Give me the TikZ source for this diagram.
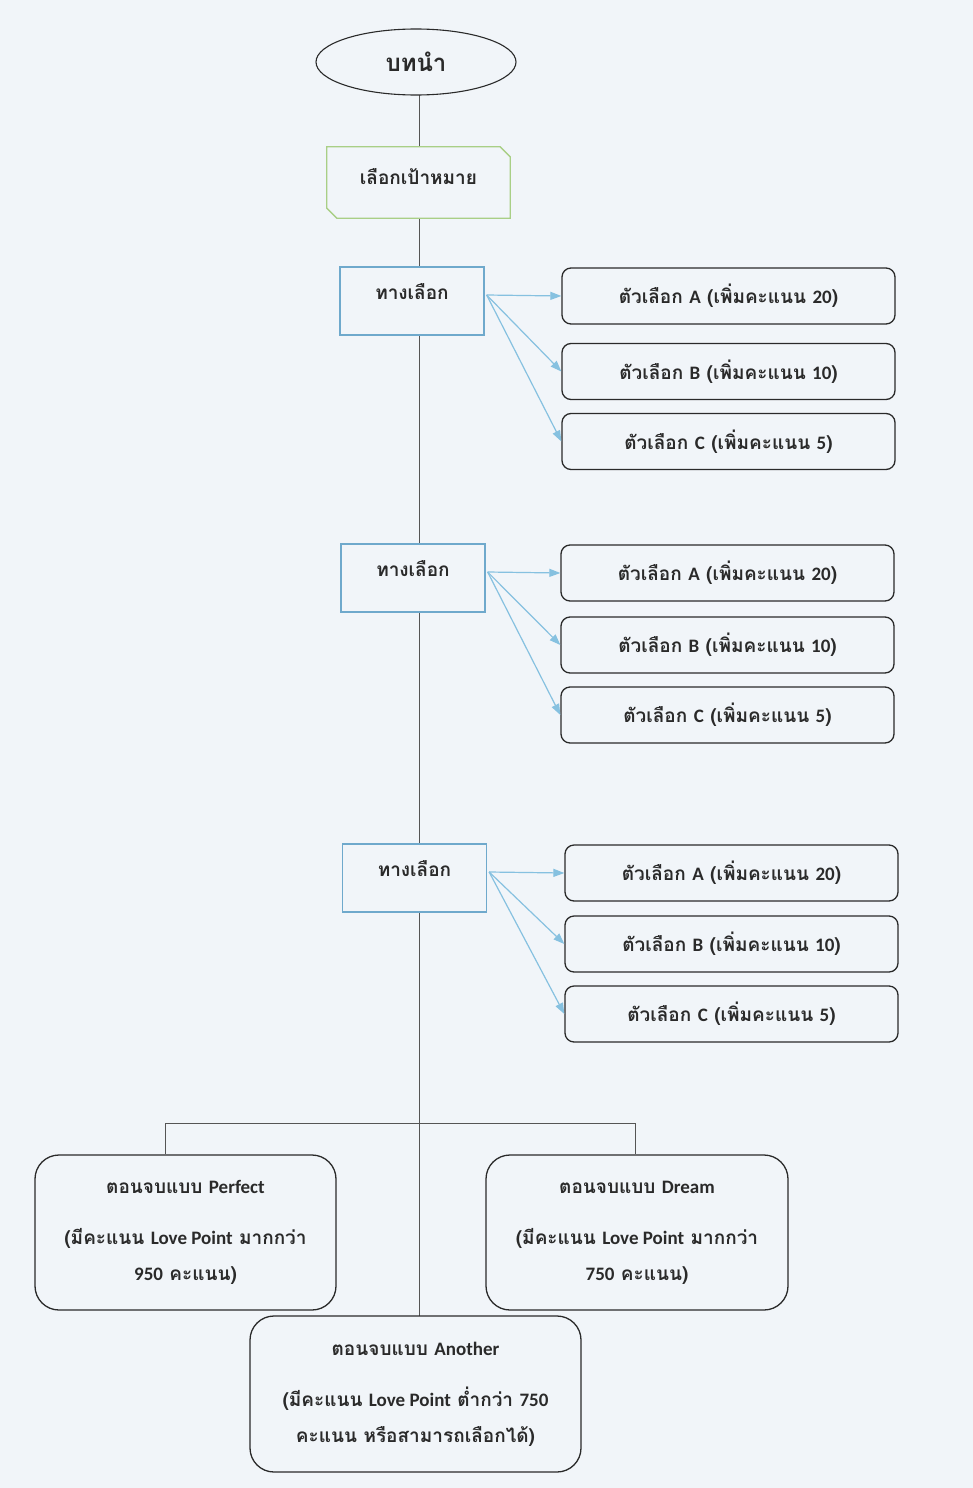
\documentclass[tikz,border=0pt]{standalone}
\usepackage{fontspec}
\usetikzlibrary{shapes.geometric,arrows.meta,calc}
\setmainfont[Script=Thai]{Loma}
\newfontfamily\latinfont{Carlito}
\newcommand{\lat}[1]{{\latinfont\bfseries #1}}
\definecolor{paper}{HTML}{F1F5F9}
\definecolor{ink}{HTML}{2A2A2A}
\definecolor{goalgreen}{HTML}{A9CF86}
\definecolor{boxblue}{HTML}{6FA9CC}
\definecolor{arrowblue}{HTML}{86C1E0}
\tikzset{
  txt/.style={text=ink, font=\fontsize{19}{23}\selectfont\bfseries, inner sep=0pt},
  startnode/.style={ellipse, draw=ink, line width=1.1pt, fill=paper,
    minimum width=200pt, minimum height=66pt, text=ink,
    font=\fontsize{24}{28}\selectfont\bfseries},
  choicebox/.style={rectangle, draw=boxblue, line width=1.3pt, fill=paper,
    minimum width=144pt, minimum height=68pt},
  optbox/.style={rectangle, rounded corners=9pt, draw=ink, line width=1.3pt, fill=paper,
    minimum width=333pt, minimum height=56pt, text=ink,
    font=\fontsize{19}{23}\selectfont\bfseries},
  endbox/.style={rectangle, rounded corners=24pt, draw=ink, line width=1.3pt, fill=paper,
    align=center, text=ink, font=\fontsize{19}{36}\selectfont\bfseries},
  trunk/.style={draw=ink!80, line width=0.9pt},
  pick/.style={draw=arrowblue, line width=1.2pt, -{Triangle[length=11pt,width=8pt]}}
}
\begin{document}
\begin{tikzpicture}[x=1pt,y=-1pt]
  \fill[paper] (0,0) rectangle (973,1488);
  \useasboundingbox (0,0) rectangle (973,1488);

  % main spine of the story
  \coordinate (spineTop) at (419,95);
  \coordinate (spineBot) at (419,1316);
  \draw[trunk] (spineTop) -- (spineBot);

  % start
  \node[startnode] (intro) at (416,62) {บทนำ};

  % goal selection (chamfered box)
  \node[minimum width=183pt, minimum height=71pt, inner sep=0pt] (goal) at (418.5,182.5) {};
  \filldraw[draw=goalgreen, fill=paper, line width=1.3pt]
    (goal.north west) -- ($(goal.north east)+(-10,0)$) -- ($(goal.north east)+(0,10)$)
    -- (goal.south east) -- ($(goal.south west)+(10,0)$) -- ($(goal.south west)+(0,-10)$) -- cycle;
  \node[txt] (goalt) at ($(goal.center)+(0,-6)$) {เลือกเป้าหมาย};

  % three rounds of choices
  \foreach \i/\bx/\by/\ox/\oa/\ob/\oc in {
      1/412/301/728.5/296/371.5/441.5,
      2/413/578/727.5/573/645/715,
      3/414.5/878/731.5/873/944/1014} {
    \node[choicebox] (choice\i) at (\bx,\by) {};
    \node[txt] (choice\i t) at ($(choice\i.center)+(0,-9)$) {ทางเลือก};
    \node[optbox] (opt\i a) at (\ox,\oa) {ตัวเลือก \lat{A} (เพิ่มคะแนน \lat{20})};
    \node[optbox] (opt\i b) at (\ox,\ob) {ตัวเลือก \lat{B} (เพิ่มคะแนน \lat{10})};
    \node[optbox] (opt\i c) at (\ox,\oc) {ตัวเลือก \lat{C} (เพิ่มคะแนน \lat{5})};
    \coordinate (fan\i) at ($(choice\i.east)+(2,-6)$);
    \draw[pick] (fan\i) -- (opt\i a.west);
    \draw[pick] (fan\i) -- (opt\i b.west);
    \draw[pick] (fan\i) -- (opt\i c.west);
  }

  % endings
  \node[endbox, minimum width=301pt, minimum height=155pt] (perfect) at (185.5,1232.5)
    {ตอนจบแบบ \lat{Perfect}\\[15pt](มีคะแนน \lat{Love Point} มากกว่า\\\lat{950} คะแนน)};
  \node[endbox, minimum width=302pt, minimum height=155pt] (dream) at (637,1232.5)
    {ตอนจบแบบ \lat{Dream}\\[15pt](มีคะแนน \lat{Love Point} มากกว่า\\\lat{750} คะแนน)};
  \node[endbox, minimum width=331pt, minimum height=156pt] (another) at (415.5,1394)
    {ตอนจบแบบ \lat{Another}\\[15pt](มีคะแนน \lat{Love Point} ต่ำกว่า \lat{750}\\คะแนน หรือสามารถเลือกได้)};

  % split towards the first two endings
  \coordinate (split) at (419,1123);
  \draw[trunk] ([xshift=-20pt]perfect.north) |- (split) -| ([xshift=-2pt]dream.north);
\end{tikzpicture}
\end{document}
